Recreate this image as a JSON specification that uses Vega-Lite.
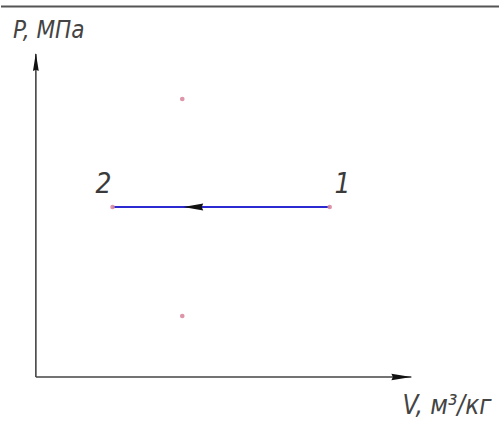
{
  "$schema": "https://vega.github.io/schema/vega-lite/v6.json",
  "width": 500,
  "height": 428,
  "padding": 0,
  "autosize": {"type": "fit", "contains": "padding"},
  "background": "white",
  "config": {"view": {"stroke": null}},
  "encoding": {
    "x": {"field": "v", "type": "quantitative", "axis": null, "scale": {"domain": [-3.5, 46.5], "nice": false, "zero": false}},
    "y": {"field": "p", "type": "quantitative", "axis": null, "scale": {"domain": [-5.1, 37.7], "nice": false, "zero": false}}
  },
  "layer": [
    {
      "data": {"values": [{"v": -3.5, "v2": 46.5, "p": 37.05}]},
      "mark": {"type": "rule", "stroke": "#555555", "strokeWidth": 2},
      "encoding": {"x2": {"field": "v2"}}
    },
    {
      "data": {"values": [
        {"axis": "P", "v": 0, "p": 0, "v2": 0, "p2": 32.3},
        {"axis": "V", "v": 0, "p": 0, "v2": 37.7, "p2": 0}
      ]},
      "mark": {"type": "rule", "stroke": "#444444", "strokeWidth": 1.6},
      "encoding": {"x2": {"field": "v2"}, "y2": {"field": "p2"}}
    },
    {
      "data": {"values": [{"process": "1-2", "v": 7.7, "v2": 29.5, "p": 17}]},
      "mark": {"type": "rule", "stroke": "#2a2ad0", "strokeWidth": 2},
      "encoding": {"x2": {"field": "v2"}}
    },
    {
      "data": {"values": [{"arrow": "P axis", "v": 0, "p": 31.5}]},
      "mark": {"type": "point", "shape": "M0,-1 L0.32,1 L0,0.85 L-0.32,1 Z", "filled": true, "color": "#111111", "opacity": 1, "size": 324, "angle": 0}
    },
    {
      "data": {"values": [{"arrow": "V axis", "v": 36.7, "p": 0}]},
      "mark": {"type": "point", "shape": "M0,-1 L0.32,1 L0,0.85 L-0.32,1 Z", "filled": true, "color": "#111111", "opacity": 1, "size": 400, "angle": 90}
    },
    {
      "data": {"values": [{"arrow": "process", "v": 15.8, "p": 17}]},
      "mark": {"type": "point", "shape": "M0,-1 L0.34,1 L0,0.85 L-0.34,1 Z", "filled": true, "color": "#111111", "opacity": 1, "size": 400, "angle": 270}
    },
    {
      "data": {"values": [
        {"pt": "2", "v": 7.7, "p": 17},
        {"pt": "1", "v": 29.5, "p": 17},
        {"pt": "a", "v": 14.7, "p": 27.8},
        {"pt": "b", "v": 14.7, "p": 6.1}
      ]},
      "mark": {"type": "circle", "size": 22, "color": "#d98aa0", "opacity": 0.9}
    },
    {
      "data": {"values": [
        {"label": "2", "v": 6.8, "p": 18.4},
        {"label": "1", "v": 30.8, "p": 18.4}
      ]},
      "mark": {"type": "text", "font": "DejaVu Sans Condensed, DejaVu Sans, sans-serif", "fontStyle": "italic", "fontWeight": 300, "fontSize": 28, "color": "#3a3a3a", "align": "center", "baseline": "alphabetic"},
      "encoding": {"text": {"field": "label"}}
    },
    {
      "data": {"values": [{"label": "P, МПа", "v": -2.3, "p": 33.9}]},
      "mark": {"type": "text", "font": "DejaVu Sans Condensed, DejaVu Sans, sans-serif", "fontStyle": "italic", "fontWeight": 300, "fontSize": 24, "color": "#444444", "align": "left", "baseline": "alphabetic"},
      "encoding": {"text": {"field": "label"}}
    },
    {
      "data": {"values": [{"label": "V, м³/кг", "v": 36.8, "p": -3.7}]},
      "mark": {"type": "text", "font": "DejaVu Sans Condensed, DejaVu Sans, sans-serif", "fontStyle": "italic", "fontWeight": 300, "fontSize": 26, "color": "#444444", "align": "left", "baseline": "alphabetic"},
      "encoding": {"text": {"field": "label"}}
    }
  ]
}
